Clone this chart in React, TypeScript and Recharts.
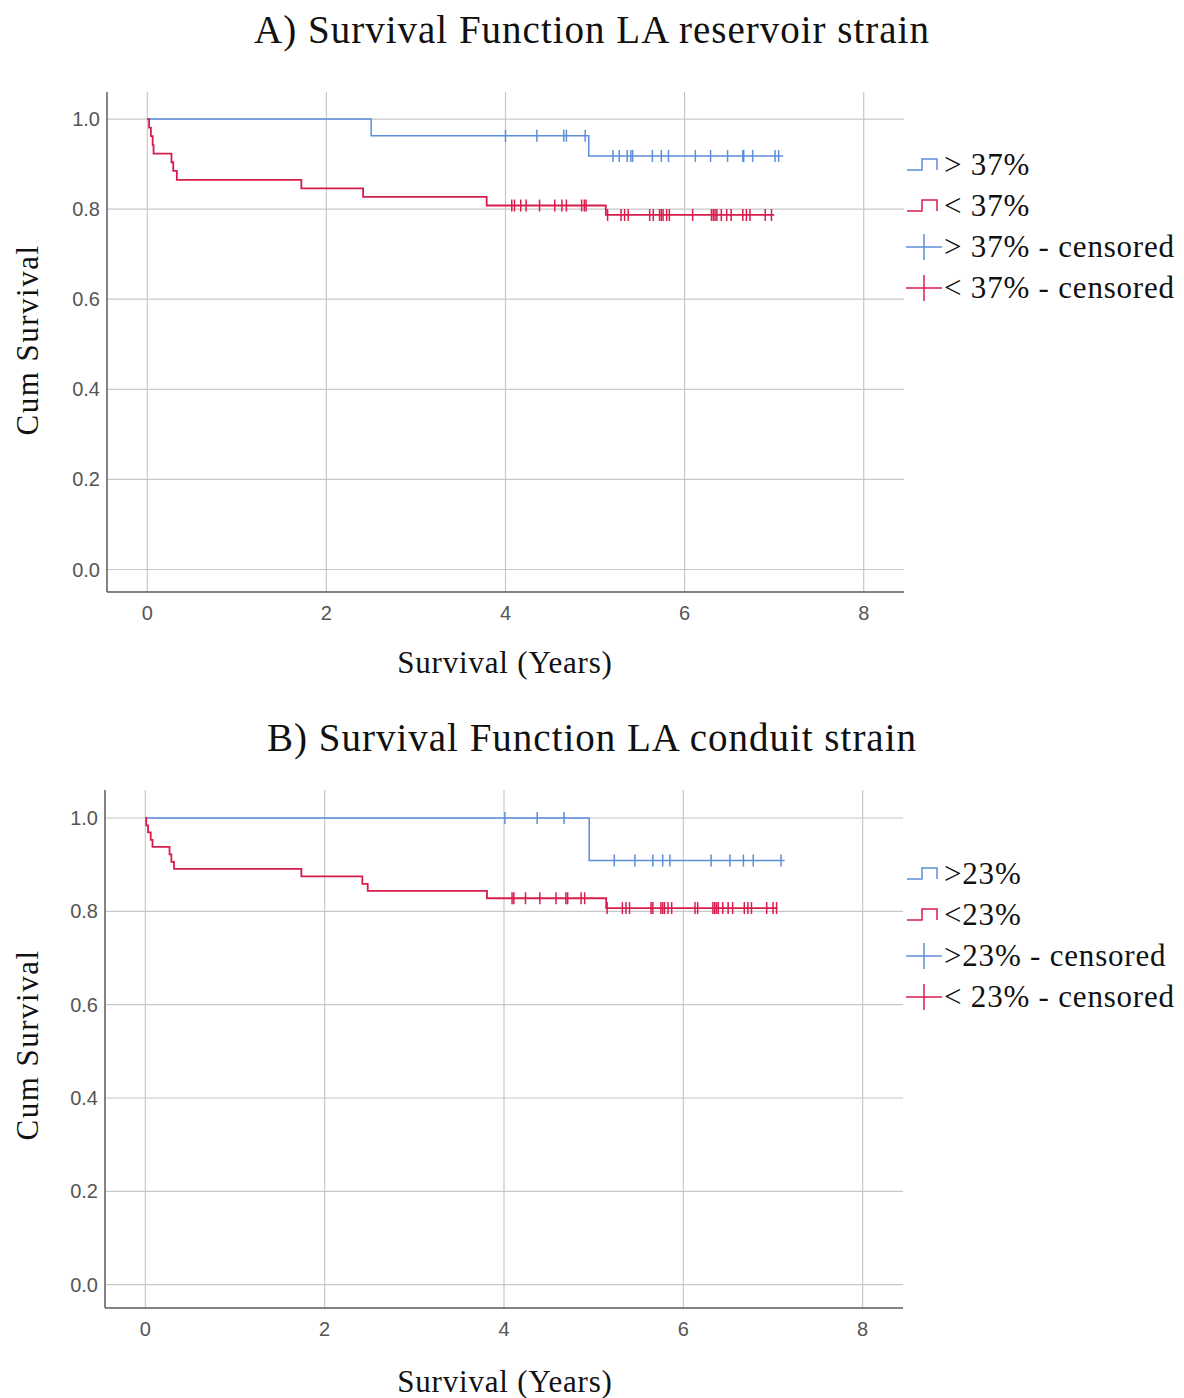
import React from 'react';
import { ComposedChart, Line, Scatter, XAxis, YAxis, CartesianGrid } from 'recharts';

// axis ticks
const xTicks = [0, 2, 4, 6, 8];
const yTicks = [0, 0.2, 0.4, 0.6, 0.8, 1.0];

// A) LA reservoir strain, > 37%
const aHighTimes = [0, 2.5, 4.93, 7.1];
const aHighSurv = [1, 0.963, 0.918, 0.918];
const aHighCensored = [4.0, 4.35, 4.65, 4.68, 4.89, 5.2, 5.27, 5.36, 5.4, 5.42, 5.64, 5.74, 5.82, 6.12, 6.29, 6.48, 6.65, 6.66, 6.76, 7.01, 7.05];

// A) LA reservoir strain, < 37%
const aLowTimes = [0, 0.02, 0.04, 0.06, 0.07, 0.27, 0.29, 0.33, 1.72, 2.41, 3.79, 5.12, 7.0];
const aLowSurv = [1, 0.981, 0.962, 0.942, 0.923, 0.904, 0.885, 0.865, 0.846, 0.827, 0.808, 0.787, 0.787];
const aLowCensored = [4.07, 4.1, 4.17, 4.23, 4.38, 4.55, 4.63, 4.68, 4.85, 4.88, 4.9, 5.14, 5.29, 5.33, 5.37, 5.61, 5.65, 5.72, 5.74, 5.76, 5.8, 5.83, 6.09, 6.3, 6.32, 6.34, 6.36, 6.41, 6.47, 6.52, 6.65, 6.69, 6.73, 6.9, 6.97];

// B) LA conduit strain, > 23%
const bHighTimes = [0, 4.95, 7.13];
const bHighSurv = [1, 0.909, 0.909];
const bHighCensored = [4.01, 4.37, 4.67, 5.23, 5.46, 5.66, 5.77, 5.85, 6.31, 6.52, 6.67, 6.78, 7.09];

// B) LA conduit strain, < 23%
const bLowTimes = [0, 0.01, 0.03, 0.06, 0.08, 0.27, 0.29, 0.32, 1.74, 2.42, 2.48, 3.81, 5.14, 7.05];
const bLowSurv = [1, 0.984, 0.969, 0.953, 0.938, 0.922, 0.906, 0.891, 0.875, 0.859, 0.844, 0.828, 0.807, 0.807];
const bLowCensored = [4.09, 4.11, 4.24, 4.4, 4.58, 4.69, 4.71, 4.86, 4.9, 5.15, 5.32, 5.36, 5.4, 5.64, 5.66, 5.75, 5.77, 5.79, 5.83, 5.87, 6.13, 6.16, 6.33, 6.35, 6.37, 6.39, 6.44, 6.5, 6.55, 6.68, 6.72, 6.76, 6.93, 7.0, 7.04];

const BLUE = '#5b8fd9';
const RED = '#d81c4c';
const GRID = '#c8c8c8';
const AXIS = '#5a5a5a';
const SERIF = "'Liberation Serif', 'DejaVu Serif', serif";
const SANS = "'Liberation Sans', sans-serif";

function curve(times: number[], surv: number[]) {
  return times.map((t, i) => ({ t, s: surv[i] }));
}

// survival at a censoring time = value of the step curve at that time
function censored(times: number[], curveT: number[], curveS: number[]) {
  return times.map(t => {
    let s = curveS[0];
    curveT.forEach((ct, i) => {
      if (ct <= t) s = curveS[i];
    });
    return { t, s };
  });
}

function censorShape(color: string) {
  return (p: any) => (
    <line x1={p.cx} x2={p.cx} y1={p.cy - 6} y2={p.cy + 6} stroke={color} strokeWidth={1.5} />
  );
}

function StepIcon({ color }: { color: string }) {
  return (
    <svg width={36} height={20} style={{ display: 'block' }}>
      <path d="M1,15 H16 V4 H31 V15" fill="none" stroke={color} strokeWidth={1.5} />
    </svg>
  );
}

function CrossIcon({ color }: { color: string }) {
  return (
    <svg width={36} height={30} style={{ display: 'block' }}>
      <line x1={0} x2={36} y1={15} y2={15} stroke={color} strokeWidth={1.5} />
      <line x1={18} x2={18} y1={2} y2={28} stroke={color} strokeWidth={1.5} />
    </svg>
  );
}

interface PanelProps {
  title: string;
  titleY: number;
  chartTop: number;
  margin: { top: number; right: number; left: number; bottom: number };
  yLabelY: number;
  xLabelY: number;
  legendTop: number;
  legendLabels: string[];
  highT: number[];
  highS: number[];
  highC: number[];
  lowT: number[];
  lowS: number[];
  lowC: number[];
}

function KmPanel(props: PanelProps) {
  const { margin } = props;
  const high = curve(props.highT, props.highS);
  const low = curve(props.lowT, props.lowS);
  const highCens = censored(props.highC, props.highT, props.highS);
  const lowCens = censored(props.lowC, props.lowT, props.lowS);
  const icons = [
    <StepIcon color={BLUE} />,
    <StepIcon color={RED} />,
    <CrossIcon color={BLUE} />,
    <CrossIcon color={RED} />,
  ];

  return (
    <>
      <div style={{ position: 'absolute', left: 0, width: 1184, top: props.titleY - 24, textAlign: 'center', fontFamily: SERIF, fontSize: 39, letterSpacing: 1, lineHeight: '48px', color: '#111' }}>
        {props.title}
      </div>
      <div style={{ position: 'absolute', left: 0, top: props.chartTop }}>
        <ComposedChart width={910} height={600} margin={margin}>
          <CartesianGrid stroke={GRID} strokeWidth={1.2} horizontalValues={yTicks} verticalValues={xTicks} />
          <XAxis
            dataKey="t"
            type="number"
            domain={[-0.45, 8.45]}
            ticks={xTicks}
            height={40}
            tickLine={false}
            tickMargin={8}
            axisLine={{ stroke: AXIS, strokeWidth: 1.5 }}
            tick={{ fill: '#555', fontSize: 20, fontFamily: SANS }}
            allowDataOverflow
          />
          <YAxis
            dataKey="s"
            type="number"
            domain={[-0.05, 1.06]}
            ticks={yTicks}
            width={60}
            tickLine={false}
            tickMargin={1}
            axisLine={{ stroke: AXIS, strokeWidth: 1.5 }}
            tick={{ fill: '#555', fontSize: 20, fontFamily: SANS }}
            tickFormatter={(v: number) => v.toFixed(1)}
            allowDataOverflow
          />
          <Line data={high} dataKey="s" type="stepAfter" stroke={BLUE} strokeWidth={1.5} dot={false} isAnimationActive={false} />
          <Line data={low} dataKey="s" type="stepAfter" stroke={RED} strokeWidth={1.8} dot={false} isAnimationActive={false} />
          <Scatter data={highCens} dataKey="s" shape={censorShape(BLUE)} isAnimationActive={false} />
          <Scatter data={lowCens} dataKey="s" shape={censorShape(RED)} isAnimationActive={false} />
        </ComposedChart>
      </div>
      <div style={{ position: 'absolute', left: 28, top: props.yLabelY, transform: 'translate(-50%, -50%) rotate(-90deg)', whiteSpace: 'nowrap', fontFamily: SERIF, fontSize: 31, letterSpacing: 1.5, color: '#111' }}>
        Cum Survival
      </div>
      <div style={{ position: 'absolute', left: 505, top: props.xLabelY, transform: 'translate(-50%, -50%)', whiteSpace: 'nowrap', fontFamily: SERIF, fontSize: 31, letterSpacing: 0.8, color: '#111' }}>
        Survival (Years)
      </div>
      <div style={{ position: 'absolute', left: 906, top: props.legendTop }}>
        {props.legendLabels.map((label, i) => (
          <div key={label} style={{ display: 'flex', alignItems: 'center', height: 41 }}>
            {icons[i]}
            <span style={{ marginLeft: 2, fontFamily: SERIF, fontSize: 31, letterSpacing: 0.8, color: '#111', whiteSpace: 'nowrap' }}>{label}</span>
          </div>
        ))}
      </div>
    </>
  );
}

export default function App() {
  return (
    <div style={{ position: 'absolute', left: 0, top: 0, width: 1184, height: 1398, background: '#fff', overflow: 'hidden' }}>
      <KmPanel
        title="A) Survival Function LA reservoir strain"
        titleY={30}
        chartTop={60}
        margin={{ top: 32, right: 6, left: 47, bottom: 28 }}
        yLabelY={340}
        xLabelY={663}
        legendTop={144}
        legendLabels={['> 37%', '< 37%', '> 37% - censored', '< 37% - censored']}
        highT={aHighTimes}
        highS={aHighSurv}
        highC={aHighCensored}
        lowT={aLowTimes}
        lowS={aLowSurv}
        lowC={aLowCensored}
      />
      <KmPanel
        title="B) Survival Function LA conduit strain"
        titleY={738}
        chartTop={760}
        margin={{ top: 30, right: 7, left: 45, bottom: 12 }}
        yLabelY={1045}
        xLabelY={1382}
        legendTop={853}
        legendLabels={['>23%', '<23%', '>23% - censored', '< 23% - censored']}
        highT={bHighTimes}
        highS={bHighSurv}
        highC={bHighCensored}
        lowT={bLowTimes}
        lowS={bLowSurv}
        lowC={bLowCensored}
      />
    </div>
  );
}
